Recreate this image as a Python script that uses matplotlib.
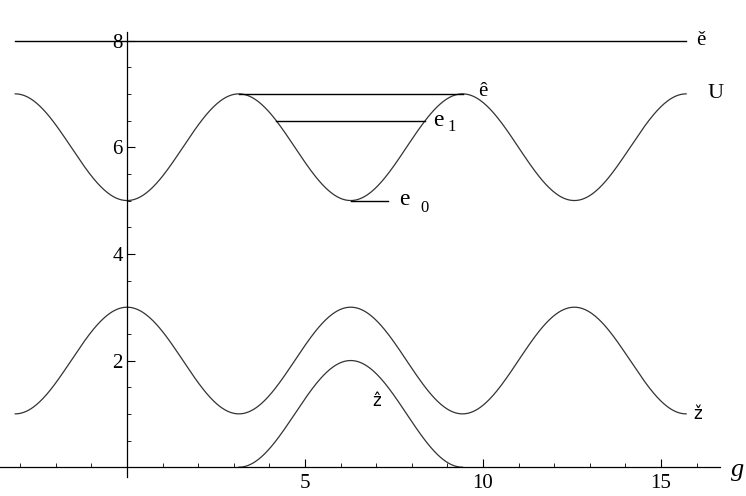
import numpy as np
import matplotlib
matplotlib.use("Agg")
import matplotlib.pyplot as plt

pi = np.pi

# cosine curves: name, offset, amplitude (y = offset + amp*cos(g)), domain
curve_names = ["U", "z_check", "z_hat"]
curve_offset = [6.0, 2.0, 1.0]
curve_amp = [-1.0, 1.0, 1.0]
curve_start = [-pi, -pi, pi]
curve_end = [5 * pi, 5 * pi, 3 * pi]

# horizontal levels
level_names = ["e_check", "e_hat", "e1", "e0"]
level_y = [8.0, 7.0, 6.5, 5.0]
level_start = [-pi, pi, 4 * pi / 3, 2 * pi]
level_end = [5 * pi, 3 * pi, 8 * pi / 3, 7.33]

x_major = [5, 10, 15]
y_major = [2, 4, 6, 8]

plt.rcParams["font.family"] = "serif"
plt.rcParams["font.serif"] = ["Liberation Serif", "DejaVu Serif"]
serif = ["Liberation Serif", "DejaVu Serif"]

fig = plt.figure(figsize=(7.46, 4.96), dpi=100)
ax = fig.add_axes([0, 0, 1, 1])
ax.set_xlim(-3.57, 17.39)
ax.set_ylim(-0.54, 8.76)

for off, amp, a, b in zip(curve_offset, curve_amp, curve_start, curve_end):
    g = np.linspace(a, b, 600)
    ax.plot(g, off + amp * np.cos(g), color="#333333", lw=0.9)

for y, a, b in zip(level_y, level_start, level_end):
    ax.plot([a, b], [y, y], color="black", lw=1.0)

# axes through the origin
for s in ["top", "right"]:
    ax.spines[s].set_visible(False)
ax.spines["left"].set_position(("data", 0))
ax.spines["bottom"].set_position(("data", 0))
ax.spines["left"].set_bounds(-0.19, 8.16)
ax.spines["bottom"].set_bounds(-3.57, 16.66)
ax.spines["left"].set_linewidth(0.9)
ax.spines["bottom"].set_linewidth(0.9)

ax.set_xticks(x_major)
ax.set_xticks([v for v in range(-3, 17) if v not in x_major and v != 0], minor=True)
ax.set_yticks(y_major)
ax.set_yticks([v / 2 for v in range(1, 17) if v / 2 not in y_major], minor=True)
ax.tick_params(axis="x", which="major", direction="in", length=6, width=0.8, pad=5, labelsize=15)
ax.tick_params(axis="x", which="minor", direction="in", length=3, width=0.6)
ax.tick_params(axis="y", which="major", direction="in", length=6, width=0.8, pad=3, labelsize=15)
ax.tick_params(axis="y", which="minor", direction="in", length=3, width=0.6)

# labels
ax.text(16.0, 8.0, "ě", family=serif, fontsize=15, ha="left", va="center")
ax.text(16.3, 7.0, "U", family=serif, fontsize=16, ha="left", va="center")
ax.text(9.85, 7.05, "ê", family=serif, fontsize=15, ha="left", va="center")
ax.text(8.6, 6.5, "e", family=serif, fontsize=17, ha="left", va="center")
ax.text(9.0, 6.38, "1", family=serif, fontsize=12, ha="left", va="center")
ax.text(7.65, 5.02, "e", family=serif, fontsize=17, ha="left", va="center")
ax.text(8.25, 4.86, "0", family=serif, fontsize=12, ha="left", va="center")
ax.text(7.0, 1.25, "ẑ", family=["DejaVu Sans"], fontsize=12, ha="center", va="center")
ax.text(16.03, 1.0, "ž", family=["DejaVu Sans"], fontsize=12, ha="center", va="center")
ax.text(17.15, -0.05, "g", family=serif, style="italic", fontsize=19, ha="center", va="center")

fig.savefig("out.png", dpi=100)
